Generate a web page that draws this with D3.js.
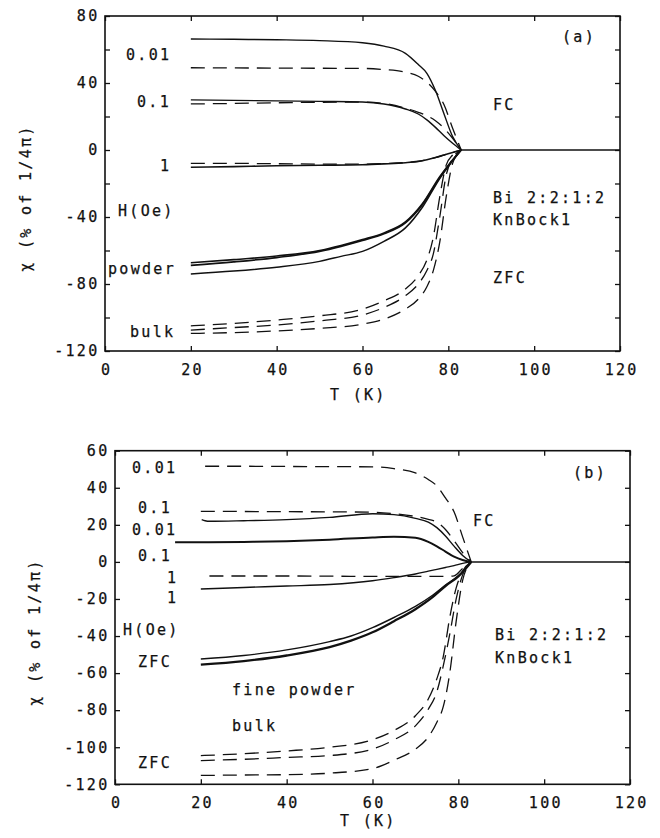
<!DOCTYPE html>
<html><head><meta charset="utf-8">
<script src="https://cdn.jsdelivr.net/npm/d3@7"></script>
<style>
html,body{margin:0;padding:0;background:#fff;}
svg text{font-family:"DejaVu Sans Mono",monospace;font-size:15px;letter-spacing:2.3px;fill:#111;stroke:#111;stroke-width:0.25px;}
</style></head>
<body>
<svg id="chart" width="660" height="838"></svg>
<script>
// ---------- shared ticks ----------
const xTicks = [0, 20, 40, 60, 80, 100, 120];
const yTicksA = [80, 60, 40, 20, 0, -20, -40, -60, -80, -100, -120];
const yLabelsA = [80, 40, 0, -40, -80, -120];
const yTicksB = [60, 40, 20, 0, -20, -40, -60, -80, -100, -120];

// ---------- Panel (a) data ----------
const tAfc = [20, 30, 40, 50, 60, 65, 70, 73, 75, 77, 79, 81, 83];
const aFc001Solid = [66.3, 66.1, 65.8, 65.3, 64, 62, 57.7, 51, 45.8, 35.5, 21.5, 8, 0];
const aFc001Dash  = [49.1, 49, 48.9, 48.8, 48.7, 48, 46.5, 44, 40.5, 35, 27, 13, 0];
const aFc01Solid  = [29.9, 29.6, 29.3, 29, 28.7, 27.5, 24.5, 21.5, 18, 13.5, 8.5, 4, 0];
const aFc01Dash   = [27.5, 27.8, 28.2, 28.5, 28.6, 27.8, 25, 22.5, 20.5, 17.5, 13, 7, 0];
const aFc1Solid   = [-10.3, -9.9, -9.4, -9.1, -8.8, -8.3, -7.6, -6.8, -5.8, -4.5, -3, -1.5, 0];
const aFc1Dash    = [-8, -8, -8.2, -8.4, -8.4, -8.1, -7.5, -6.8, -5.8, -4.5, -3, -1.5, 0];

const tApowder = [20, 30, 40, 50, 55, 60, 65, 70, 74, 78, 81, 83];
const aPowder1 = [-67.3, -65.5, -63.3, -60, -57, -53.5, -49.5, -43, -32, -16, -6, 0];
const aPowder2 = [-68.9, -66.8, -64.2, -60.5, -57.5, -54, -50, -43.5, -32.5, -16.5, -6, 0];
const aPowder3 = [-74, -72.3, -70, -66.5, -63.5, -60.5, -54.5, -46.5, -34, -17, -6.5, 0];

const tAbulk = [20, 30, 40, 50, 60, 65, 70, 73, 75, 76.5, 78, 79.5, 81, 83];
const aBulk1 = [-105, -103.5, -101.5, -99, -95, -90, -83, -75, -65.7, -52, -28, -9, -3, 0];
const aBulk2 = [-107.5, -106, -104.5, -102, -98.5, -94, -87, -80, -72, -62, -40, -15, -5, 0];
const aBulk3 = [-109.5, -109, -108, -106.5, -104, -101, -95, -89, -81.6, -72, -55, -28, -8, 0];

const tNormal = [83, 120];
const normalState = [0, 0];

// ---------- Panel (b) data ----------
const tBfc001Dash = [21, 30, 40, 50, 60, 65, 70, 73, 75, 77, 79, 81, 83];
const bFc001Dash  = [51.6, 51.6, 51.5, 51.4, 51.3, 50.3, 48, 44.5, 41, 34.5, 27, 13.5, 0];
const tBfc = [20, 30, 40, 50, 60, 65, 70, 73, 75, 77, 79, 81, 83];
const bFc01Dash   = [27.3, 27.2, 27.1, 27, 26.8, 26, 24.5, 23, 21.5, 17.5, 11.5, 5, 0];
const tBfc01Solid = [20.2, 21, 22, 30, 40, 50, 60, 65, 70, 73, 75, 77, 79, 81, 83];
const bFc01Solid  = [22.8, 22.2, 21.9, 22.2, 22.8, 24, 26, 25.5, 23.5, 21.5, 18.5, 14, 8.5, 3.5, 0];
const tBfc001Solid = [14, 20, 30, 40, 50, 60, 65, 70, 73, 75, 77, 79, 81, 83];
const bFc001Solid  = [10.6, 10.6, 10.8, 11.2, 12, 13.2, 13.6, 13, 10.8, 8.4, 5.6, 2.8, 1, 0];
const tBfc1Dash = [22, 30, 40, 50, 60, 65, 70, 73, 75, 77, 79, 81, 83];
const bFc1Dash  = [-7.6, -7.6, -7.6, -7.7, -7.8, -7.8, -7.8, -7.8, -7.8, -7.8, -7.5, -3.5, 0];
const bFc1Solid = [-14.6, -13.8, -13, -12.2, -10.2, -8.5, -6.5, -5, -4, -3, -2, -0.8, 0];

const tBpowder = [20, 30, 40, 50, 55, 60, 65, 70, 74, 77, 80, 83];
const bPowder1 = [-52.4, -50.5, -47.5, -43, -40, -35.5, -30, -24, -18, -12.5, -7.5, 0];
const bPowder2 = [-55.4, -53.5, -50.5, -46, -42.5, -38, -32, -25.5, -19, -13, -7.8, 0];

const tBbulk = [20, 30, 40, 50, 60, 65, 70, 73, 75, 76.5, 78, 79.5, 81, 83];
const bBulk1 = [-104.5, -103.5, -102, -100, -96, -91, -83, -74, -63, -51, -30, -14, -5, 0];
const bBulk2 = [-107.2, -106.5, -105.5, -104.5, -101, -96, -88.5, -79.5, -70, -56, -39, -20, -7, 0];
const bBulk3 = [-115.2, -115, -114.8, -114, -111.5, -107, -101, -94.5, -86.5, -78, -60, -32, -10, 0];

const svg = d3.select("#chart");
const LS = 2.3;

function panel(cfg) {
  const x = d3.scaleLinear().domain([0, 120]).range([cfg.x0, cfg.x1]);
  const y = d3.scaleLinear().domain(cfg.yDomain).range([cfg.yBot, cfg.yTop]);
  const g = svg.append("g");

  const styleAxis = sel => {
    sel.select(".domain").remove();
    sel.selectAll(".tick line").attr("stroke", "#111").attr("stroke-width", 1.3);
    sel.selectAll("text").attr("fill", "#111");
  };

  g.append("g").attr("transform", `translate(0,${cfg.yBot})`)
    .call(d3.axisBottom(x).tickValues(xTicks).tickSizeInner(-5).tickSizeOuter(0).tickPadding(cfg.xPad).tickFormat(d => String(d)))
    .call(styleAxis).selectAll("text").attr("dx", LS / 2);
  g.append("g").attr("transform", `translate(0,${cfg.yTop})`)
    .call(d3.axisTop(x).tickValues(xTicks).tickSizeInner(-5).tickSizeOuter(0).tickFormat(""))
    .call(styleAxis);
  g.append("g").attr("transform", `translate(${cfg.x0},0)`)
    .call(d3.axisLeft(y).tickValues(cfg.yTicks).tickSizeInner(-5).tickSizeOuter(0).tickPadding(5.5)
      .tickFormat(d => cfg.yLabels.includes(d) ? String(d) : ""))
    .call(styleAxis);
  g.append("g").attr("transform", `translate(${cfg.x1},0)`)
    .call(d3.axisRight(y).tickValues(cfg.yTicks).tickSizeInner(-5).tickSizeOuter(0).tickFormat(""))
    .call(styleAxis);

  g.append("rect").attr("x", cfg.x0).attr("y", cfg.yTop)
    .attr("width", cfg.x1 - cfg.x0).attr("height", cfg.yBot - cfg.yTop)
    .attr("fill", "none").attr("stroke", "#111").attr("stroke-width", 1.6);

  const line = d3.line().x(d => x(d[0])).y(d => y(d[1])).curve(d3.curveMonotoneX);
  cfg.curves.forEach(c => {
    g.append("path").datum(d3.zip(c.t, c.v)).attr("d", line)
      .attr("fill", "none").attr("stroke", "#111")
      .attr("stroke-width", c.w || 1.3)
      .attr("stroke-dasharray", c.dash ? "14,8" : null);
  });

  cfg.texts.forEach(t => {
    g.append("text").attr("x", t[0]).attr("y", t[1]).text(t[2]);
  });

  g.append("text").attr("x", cfg.xLabel[0]).attr("y", cfg.xLabel[1]).text("T (K)");
  g.append("text").attr("transform", `translate(${cfg.yLabel[0]},${cfg.yLabel[1]}) rotate(-90)`)
    .attr("text-anchor", "middle").text("χ (% of 1/4π)");
}

panel({
  x0: 105, x1: 620, yTop: 16, yBot: 351, yDomain: [-120, 80],
  yTicks: yTicksA, yLabels: yLabelsA, xPad: 13,
  xLabel: [330, 400], yLabel: [31, 198],
  curves: [
    {t: tAfc, v: aFc001Solid, w: 1.4}, {t: tAfc, v: aFc001Dash, dash: true},
    {t: tAfc, v: aFc01Solid, w: 1.4}, {t: tAfc, v: aFc01Dash, dash: true},
    {t: tAfc, v: aFc1Solid, w: 1.6}, {t: tAfc, v: aFc1Dash, dash: true},
    {t: tApowder, v: aPowder1, w: 1.7}, {t: tApowder, v: aPowder2, w: 1.7}, {t: tApowder, v: aPowder3, w: 1.5},
    {t: tAbulk, v: aBulk1, dash: true}, {t: tAbulk, v: aBulk2, dash: true}, {t: tAbulk, v: aBulk3, dash: true},
    {t: tNormal, v: normalState, w: 1.5}
  ],
  texts: [
    [126, 60, "0.01"], [137, 107, "0.1"], [160, 171, "1"], [118, 216, "H(Oe)"],
    [108, 274, "powder"], [130, 337, "bulk"], [562, 42, "(a)"], [493, 110, "FC"],
    [493, 203, "Bi 2:2:1:2"], [493, 225, "KnBock1"], [493, 283, "ZFC"]
  ]
});

panel({
  x0: 115, x1: 630, yTop: 450.7, yBot: 784.3, yDomain: [-120, 60],
  yTicks: yTicksB, yLabels: yTicksB, xPad: 13,
  xLabel: [340, 826], yLabel: [40, 632],
  curves: [
    {t: tBfc001Dash, v: bFc001Dash, dash: true},
    {t: tBfc, v: bFc01Dash, dash: true},
    {t: tBfc01Solid, v: bFc01Solid, w: 1.4},
    {t: tBfc001Solid, v: bFc001Solid, w: 2},
    {t: tBfc1Dash, v: bFc1Dash, dash: true},
    {t: tBfc, v: bFc1Solid, w: 1.4},
    {t: tBpowder, v: bPowder1, w: 1.4}, {t: tBpowder, v: bPowder2, w: 2.3},
    {t: tBbulk, v: bBulk1, dash: true}, {t: tBbulk, v: bBulk2, dash: true}, {t: tBbulk, v: bBulk3, dash: true},
    {t: tNormal, v: normalState, w: 1.5}
  ],
  texts: [
    [132, 473, "0.01"], [138, 513, "0.1"], [132, 535, "0.01"], [138, 561, "0.1"],
    [167, 583, "1"], [167, 603, "1"], [123, 635, "H(Oe)"], [138, 667, "ZFC"],
    [232, 695, "fine powder"], [232, 731, "bulk"], [138, 768, "ZFC"],
    [573, 478, "(b)"], [473, 526, "FC"], [495, 640, "Bi 2:2:1:2"], [495, 663, "KnBock1"]
  ]
});
</script>
</body></html>
